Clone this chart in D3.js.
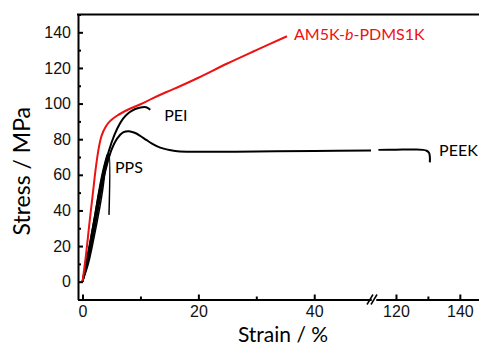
<!DOCTYPE html>
<html lang="en">
  <head>
    <meta charset="UTF-8" />
    <title>stress-strain</title>
    <script src="https://d3js.org/d3.v7.min.js"></script>
    <style>
      body { margin: 0; background: #fff; }
      svg { display: block; font-family: Lato, "Open Sans", sans-serif; }
      .axis path, .axis line { stroke: black; stroke-width: 2; }
      .axis text { font-size: 16px; fill: #111; }
      .curve { fill: none; stroke-width: 2; stroke-linejoin: round; }
      .pps { stroke-width: 1.5; }
      .label { font-size: 16px; }
    </style>
  </head>
  <body>
    <svg width="479" height="347"></svg>

    <script>
      // AM5K-b-PDMS1K (red)
      const amStrain = [0, 0.6, 1.2, 1.8, 2.3, 2.8, 3.3, 4, 4.7, 6, 8, 10, 12, 14.5, 17, 20, 25, 30, 35.3];
      const amStress = [0, 15, 33, 50, 64, 75, 82, 87, 90, 93.3, 96.8, 99.6, 102.8, 106.5, 110, 114.5, 122.5, 130, 137.8];

      // PEI
      const peiStrain = [0, 1, 2, 3, 4, 5, 6, 7, 8, 9, 10, 11, 11.7];
      const peiStress = [0, 16, 34, 52, 67, 78, 86, 91.5, 94.8, 96.8, 97.8, 97.9, 96.5];

      // PEEK, before and after the axis break
      const peekStrain = [0, 1, 2, 3, 4, 5, 6, 7, 8, 9, 10, 11, 12, 13, 14, 15, 16, 18, 20, 30, 40, 49.8];
      const peekStress = [0, 15, 32, 49, 63, 74, 80.5, 83.8, 84.5, 83.6, 81.8, 79.6, 77.5, 75.8, 74.7, 73.9, 73.4, 73, 72.9, 73.1, 73.4, 73.7];
      const peekStrain2 = [114.5, 120, 126, 128.5, 129.6, 130.3, 130.6, 130.6];
      const peekStress2 = [74, 74.1, 74.2, 74, 73.5, 72.5, 70.5, 67];

      // PPS specimens
      const ppsStrain = [
        [0, 1, 2, 3, 3.5, 4, 4.3, 4.57, 4.57],
        [0, 1, 2, 3, 3.5, 4, 4.4],
        [0, 1, 2, 3, 3.5, 4, 4.3],
        [0, 1, 2, 3, 3.5, 3.9, 4.2]
      ];
      const ppsStress = [
        [0, 14, 31, 49, 58, 66, 69.5, 71.5, 37.5],
        [0, 12, 28, 46, 56, 65, 70],
        [0, 17, 35, 54, 62, 68.5, 71.5],
        [0, 10, 25, 42, 52, 62, 68]
      ];

      const xTicksLeft = [0, 20, 40];
      const xMinorLeft = [10, 30];
      const xTicksRight = [120, 140];
      const xMinorRight = [130];
      const yTicks = [0, 20, 40, 60, 80, 100, 120, 140];
      const yMinor = [-10, 10, 30, 50, 70, 90, 110, 130, 150];

      const svg = d3.select("svg");
      const m = { left: 78, top: 14.5, bottom: 299.5, right: 479 };

      const xL = d3.scaleLinear().domain([-0.78, 49.8]).range([m.left, 371]);
      const xR = d3.scaleLinear().domain([113.75, 146]).range([376, m.right]);
      const x = function (v) { return v <= 50 ? xL(v) : xR(v); };
      const y = d3.scaleLinear().domain([-10, 150]).range([m.bottom, m.top]);

      function pts(xs, ys) {
        return xs.map(function (v, i) { return [v, ys[i]]; });
      }
      const line = d3.line()
        .x(function (d) { return x(d[0]); })
        .y(function (d) { return y(d[1]); })
        .curve(d3.curveCatmullRom.alpha(0.5));

      // curves
      ppsStrain.forEach(function (s, i) {
        svg.append("path").attr("class", "curve pps").attr("stroke", "black")
          .attr("d", line(pts(s, ppsStress[i])));
      });
      svg.append("path").attr("class", "curve").attr("stroke", "black")
        .attr("d", line(pts(peekStrain, peekStress)));
      svg.append("path").attr("class", "curve").attr("stroke", "black")
        .attr("d", line(pts(peekStrain2, peekStress2)));
      svg.append("path").attr("class", "curve").attr("stroke", "black")
        .attr("d", line(pts(peiStrain, peiStress)));
      svg.append("path").attr("class", "curve").attr("stroke", "#ee1111")
        .attr("d", line(pts(amStrain, amStress)));

      // axes
      svg.append("g").attr("class", "axis")
        .attr("transform", "translate(" + m.left + ",0)")
        .call(d3.axisLeft(y).tickValues(yTicks).tickSizeInner(-5).tickSizeOuter(0).tickPadding(7));
      svg.append("g").attr("class", "axis")
        .attr("transform", "translate(" + m.left + ",0)")
        .call(d3.axisLeft(y).tickValues(yMinor).tickSizeInner(-3).tickSizeOuter(0).tickFormat(""))
        .select(".domain").remove();

      svg.append("g").attr("class", "axis")
        .attr("transform", "translate(0," + m.bottom + ")")
        .call(d3.axisBottom(xL).tickValues(xTicksLeft).tickSizeInner(-5).tickSizeOuter(0).tickPadding(6));
      svg.append("g").attr("class", "axis")
        .attr("transform", "translate(0," + m.bottom + ")")
        .call(d3.axisBottom(xL).tickValues(xMinorLeft).tickSizeInner(-3).tickSizeOuter(0).tickFormat(""));
      svg.append("g").attr("class", "axis")
        .attr("transform", "translate(0," + m.bottom + ")")
        .call(d3.axisBottom(xR).tickValues(xTicksRight).tickSizeInner(-5).tickSizeOuter(0).tickPadding(6));
      svg.append("g").attr("class", "axis")
        .attr("transform", "translate(0," + m.bottom + ")")
        .call(d3.axisBottom(xR).tickValues(xMinorRight).tickSizeInner(-3).tickSizeOuter(0).tickFormat(""));

      // top frame
      svg.append("line").attr("x1", m.left - 1).attr("x2", m.right).attr("y1", m.top).attr("y2", m.top)
        .attr("stroke", "black").attr("stroke-width", 2);

      // break marks
      [xL.range()[1] - 1, xR.range()[0] - 2].forEach(function (bx) {
        svg.append("line")
          .attr("x1", bx - 3).attr("y1", m.bottom + 5)
          .attr("x2", bx + 3).attr("y2", m.bottom - 5)
          .attr("stroke", "black").attr("stroke-width", 1.5);
      });

      // axis titles
      svg.append("text")
        .attr("transform", "translate(30," + y(62) + ") rotate(-90)")
        .attr("text-anchor", "middle")
        .attr("font-size", 23)
        .text("Stress / MPa");
      svg.append("text")
        .attr("x", 283).attr("y", 342)
        .attr("text-anchor", "middle")
        .attr("font-size", 21)
        .text("Strain / %");

      // curve labels
      const am = svg.append("text").attr("class", "label").attr("fill", "#ee1111")
        .attr("x", x(36.5)).attr("y", y(135.5));
      am.append("tspan").text("AM5K-");
      am.append("tspan").attr("font-style", "italic").text("b");
      am.append("tspan").text("-PDMS1K");

      svg.append("text").attr("class", "label").attr("x", x(14.1)).attr("y", y(90)).text("PEI");
      svg.append("text").attr("class", "label").attr("x", x(5.6)).attr("y", y(61)).text("PPS");
      svg.append("text").attr("class", "label").attr("x", xR(133.5)).attr("y", y(70.8)).text("PEEK");
    </script>
  </body>
</html>
